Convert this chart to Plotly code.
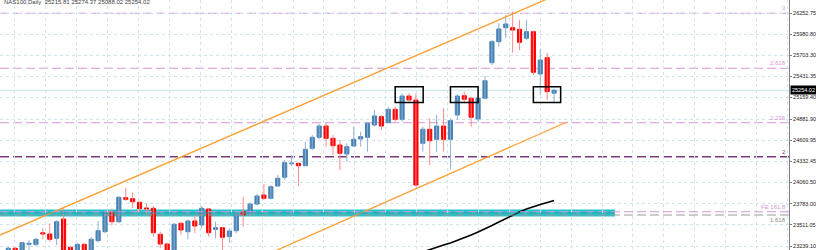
import plotly.graph_objects as go

# ---------------- data ----------------
bars = list(range(1, 81))
opens = [23149, 23210, 23162, 23261, 23261, 23410, 23394, 23339, 23588, 23222,
         23162, 23261, 23175, 23308, 23424, 23679, 23553, 23864, 23851, 23804,
         23731, 23727, 23391, 23265, 23162, 23533, 23424, 23563, 23511, 23718,
         23455, 23476, 23360, 23437, 23683, 23670, 23782, 23899, 23856, 24015,
         24128, 24304, 24309, 24278, 24503, 24645, 24791, 24632, 24546, 24429,
         24533, 24623, 24645, 24804, 24912, 24834, 25007, 24878, 25179, 25128,
         24568, 24749, 24619, 24791, 24619, 24934, 25183, 25150, 24882, 25150,
         25610, 25882, 26063, 26063, 26042, 25926, 26011, 25464, 25675, 25215.81]
highs = [23233, 23226, 23291, 23317, 23343, 23468, 23533, 23575, 23727, 23239,
         23278, 23278, 23356, 23566, 23705, 23724, 23886, 23993, 23929, 23815,
         23791, 23757, 23424, 23284, 23537, 23553, 23585, 23640, 23757, 23727,
         23553, 23489, 23468, 23679, 23877, 23804, 23912, 24041, 24028, 24157,
         24352, 24416, 24319, 24588, 24675, 24817, 24826, 24675, 24610, 24568,
         24782, 24718, 24847, 24998, 24934, 25041, 25041, 25214, 25214, 25214,
         24782, 24891, 24934, 25020, 24891, 25205, 25235, 25170, 25162, 25438,
         25904, 26120, 26227, 26270, 26162, 26162, 26020, 25783, 25739, 25274.37]
lows = [23110, 23123, 23136, 23187, 23239, 23326, 23295, 23252, 23136, 23136,
        23136, 23136, 23149, 23291, 23407, 23504, 23537, 23821, 23731, 23670,
        23653, 23360, 23210, 23136, 23136, 23381, 23326, 23407, 23468, 23360,
        23339, 23187, 23282, 23403, 23489, 23640, 23769, 23834, 23843, 24006,
        24093, 24274, 24015, 24274, 24481, 24619, 24524, 24416, 24222, 24330,
        24524, 24524, 24459, 24782, 24740, 24826, 24847, 24847, 25106, 24006,
        24459, 24287, 24459, 24459, 24231, 24869, 25085, 24782, 24847, 25137,
        25580, 25817, 25926, 25739, 25774, 25904, 25451, 25192, 25128, 25088.02]
closes = [23210, 23162, 23282, 23274, 23326, 23394, 23326, 23553, 23162, 23175,
          23261, 23175, 23326, 23437, 23672, 23553, 23869, 23843, 23812, 23722,
          23718, 23411, 23265, 23175, 23520, 23446, 23563, 23498, 23727, 23411,
          23476, 23352, 23433, 23649, 23640, 23782, 23886, 23856, 24006, 24115,
          24317, 24313, 24278, 24490, 24645, 24791, 24632, 24536, 24438, 24524,
          24619, 24653, 24826, 24921, 24791, 25007, 24878, 25179, 25128, 24028,
          24749, 24601, 24791, 24619, 24860, 25179, 25137, 24904, 25150, 25377,
          25882, 26046, 26111, 26033, 25874, 26011, 25486, 25645, 25235, 25254.02]

ma_bars = list(range(61, 81))
ma_values = [23162, 23194, 23226, 23252, 23278, 23310, 23343, 23381, 23420, 23459,
             23504, 23550, 23595, 23640, 23679, 23718, 23750, 23776, 23802, 23828]

y_tick_values = [26252.75, 25980.80, 25703.30, 25431.35, 25159.40, 24881.90,
                 24609.95, 24332.45, 24060.50, 23783.00, 23511.05, 23239.10]
y_tick_labels = ["%.2f" % v for v in y_tick_values]

fib_levels = [26250, 25538, 24834, 24394]
fib_labels = ["3", "2.618", "2.236", "2"]
fe_level = 23683
fe_label = "FE 161.8"
fe_gray_level = 23640
fe_gray_label = "1.618"
band_center = 23666
band_end_bar = 88.8

upper_channel_bars = [-0.2, 85]
upper_channel_prices = [23381, 26665]
lower_channel_bars = [30, 81.85]
lower_channel_prices = [22795, 24843]

box_bars = [(57, 61.05), (65, 69), (77, 80.95)]
box_prices = (25095, 25300)

current_price = 25254.02
title_text = "NAS100,Daily  25215.81 25274.37 25088.02 25254.02"

# ---------------- styling ----------------
BLUE = "#4682B4"
RED = "#FF0000"
BLUE_WICK = "#8fb1d3"
RED_WICK = "#ff8a8a"
PINK = "#d596d5"
PURPLE = "#7a3a7a"
FONT = "Liberation Sans, Arial, sans-serif"

fig = go.Figure()

# wicks
for up, col in [(True, BLUE_WICK), (False, RED_WICK)]:
    wx, wy = [], []
    for b, o, h, l, c in zip(bars, opens, highs, lows, closes):
        if (c >= o) == up:
            wx += [b, b, None]
            wy += [l, h, None]
    fig.add_trace(go.Scatter(x=wx, y=wy, mode="lines",
                             line=dict(color=col, width=1),
                             hoverinfo="skip", showlegend=False))

# bodies
for up, col in [(True, BLUE), (False, RED)]:
    bx, bh, bb = [], [], []
    for b, o, c in zip(bars, opens, closes):
        if (c >= o) == up:
            bx.append(b)
            bb.append(min(o, c))
            bh.append(abs(c - o))
    fig.add_trace(go.Bar(x=bx, y=bh, base=bb, width=0.6,
                         marker=dict(color=col, line=dict(color=col, width=1)),
                         hoverinfo="skip", showlegend=False))

# moving average
fig.add_trace(go.Scatter(x=ma_bars, y=ma_values, mode="lines",
                         line=dict(color="black", width=1.6),
                         hoverinfo="skip", showlegend=False))

# channel lines
fig.add_trace(go.Scatter(x=upper_channel_bars, y=upper_channel_prices, mode="lines",
                         line=dict(color="#FFA033", width=1.3),
                         hoverinfo="skip", showlegend=False))
fig.add_trace(go.Scatter(x=lower_channel_bars, y=lower_channel_prices, mode="lines",
                         line=dict(color="#FFA033", width=1.3),
                         hoverinfo="skip", showlegend=False))

shapes = []
# current price line
shapes.append(dict(type="line", xref="paper", x0=0, x1=1, yref="y",
                   y0=current_price, y1=current_price,
                   line=dict(color="#bfe6f0", width=1), layer="below"))
# fib levels
for lv, lab in zip(fib_levels, fib_labels):
    col = PURPLE if lab == "2" else PINK
    shapes.append(dict(type="line", xref="paper", x0=0, x1=1, yref="y",
                       y0=lv, y1=lv,
                       line=dict(color=col, width=1.5 if lab == "2" else 1.1,
                                 dash="9px,4px"), layer="below"))
# cyan band
shapes.append(dict(type="rect", xref="x", x0=-1, x1=band_end_bar, yref="y",
                   y0=band_center - 45, y1=band_center + 45,
                   fillcolor="#22c3cc", line=dict(width=0), layer="below"))
shapes.append(dict(type="line", xref="paper", x0=0, x1=1, yref="y",
                   y0=fe_level, y1=fe_level,
                   line=dict(color=PINK, width=1.1, dash="9px,4px")))
shapes.append(dict(type="line", xref="paper", x0=0, x1=1, yref="y",
                   y0=fe_gray_level, y1=fe_gray_level,
                   line=dict(color="#9a9a9a", width=1.1, dash="9px,4px")))
shapes.append(dict(type="line", xref="x", x0=-1, x1=band_end_bar, yref="y",
                   y0=band_center, y1=band_center,
                   line=dict(color="#3a9aa2", width=1.2, dash="9px,4px")))
# boxes
for x0, x1 in box_bars:
    shapes.append(dict(type="rect", xref="x", x0=x0, x1=x1, yref="y",
                       y0=box_prices[0], y1=box_prices[1],
                       line=dict(color="black", width=1.5),
                       fillcolor="rgba(0,0,0,0)"))

annotations = []
for lv, lab in zip(fib_levels, fib_labels):
    col = PURPLE if lab == "2" else PINK
    annotations.append(dict(xref="paper", x=1, xanchor="right", xshift=-1,
                            yref="y", y=lv, yanchor="bottom", text=lab,
                            showarrow=False, font=dict(size=6, color=col, family=FONT)))
annotations.append(dict(xref="paper", x=1, xanchor="right", xshift=-1,
                        yref="y", y=fe_level, yanchor="bottom", text=fe_label,
                        showarrow=False, font=dict(size=6, color=PINK, family=FONT)))
annotations.append(dict(xref="paper", x=1, xanchor="right", xshift=-1,
                        yref="y", y=fe_gray_level, yanchor="top", text=fe_gray_label,
                        showarrow=False, font=dict(size=6, color="#888888", family=FONT)))
annotations.append(dict(xref="paper", x=1, xanchor="left", xshift=1, yref="y", y=current_price,
                        yanchor="middle", text="%.2f" % current_price, showarrow=False,
                        bgcolor="black", borderpad=1,
                        font=dict(size=5.5, color="white", family=FONT)))
annotations.append(dict(xref="paper", x=0, xanchor="left", xshift=2,
                        yref="paper", y=1, yanchor="top", yshift=3, text=title_text,
                        showarrow=False, font=dict(size=6, color="#444444", family=FONT)))

fig.update_layout(
    width=816, height=250,
    margin=dict(l=0, r=27, t=0, b=0, autoexpand=False),
    paper_bgcolor="white", plot_bgcolor="white",
    barmode="overlay",
    showlegend=False,
    shapes=shapes,
    annotations=annotations,
    xaxis=dict(range=[-0.2, 114.0], showticklabels=False, ticks="",
               showgrid=True, gridcolor="#cfe5ec", griddash="dot", gridwidth=1,
               tick0=1.97, dtick=4.472, zeroline=False, showline=False,
               fixedrange=True, automargin=False),
    yaxis=dict(range=[23187.5, 26421], side="right",
               tickvals=y_tick_values, ticktext=y_tick_labels,
               ticks="outside", ticklen=2, tickcolor="#808080",
               tickfont=dict(size=5.5, color="#222222", family=FONT),
               showgrid=True, gridcolor="#cfe5ec", griddash="dot", gridwidth=1,
               showline=True, linecolor="#808080", linewidth=1,
               zeroline=False, fixedrange=True, automargin=False),
)

fig.write_html("out.html")
